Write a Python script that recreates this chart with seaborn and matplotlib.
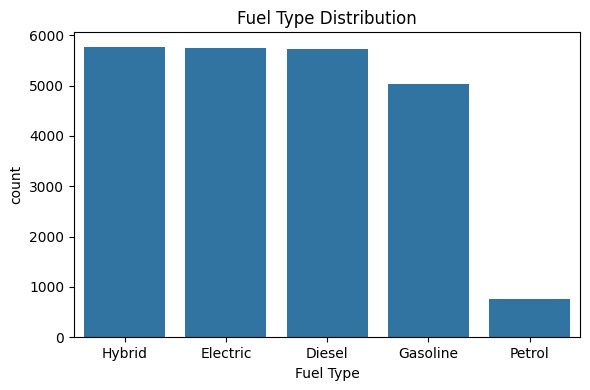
import matplotlib
matplotlib.use("Agg")
import matplotlib.pyplot as plt
import seaborn as sns
import pandas as pd

categories = ["Hybrid", "Electric", "Diesel", "Gasoline", "Petrol"]
counts = [5775, 5755, 5735, 5039, 762]

df = pd.DataFrame({"Fuel Type": categories, "count": counts})

fig, ax = plt.subplots(figsize=(5.9, 3.9), dpi=100)
sns.barplot(data=df, x="Fuel Type", y="count", color="#1f77b4", saturation=0.75, ax=ax)
ax.set_title("Fuel Type Distribution")
ax.set_xlabel("Fuel Type")
ax.set_ylabel("count")
fig.subplots_adjust(left=0.1254, right=0.9836, top=0.918, bottom=0.1351)
fig.savefig("out.png", dpi=100)
